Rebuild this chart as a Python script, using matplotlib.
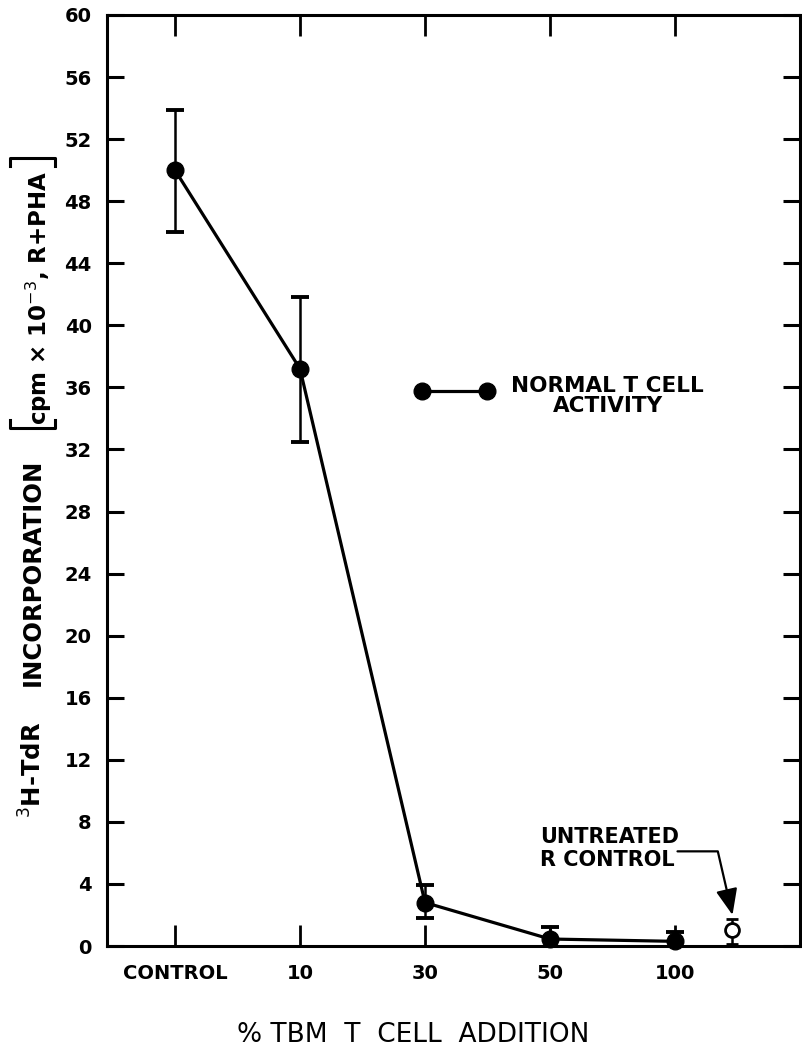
import matplotlib
matplotlib.use("Agg")
import matplotlib.pyplot as plt
from matplotlib.lines import Line2D

# T cell addition groups (x index), incorporation in cpm x 10^-3
groups = ["CONTROL", "10", "30", "50", "100"]
group_x = [0, 1, 2, 3, 4]
activity = [50.0, 37.2, 2.8, 0.45, 0.3]
err_low = [4.0, 4.7, 1.0, 0.75, 0.6]
err_high = [3.9, 4.6, 1.1, 0.75, 0.6]

# untreated responder control (open circle)
untreated_x = 4.46
untreated_y = 1.0
untreated_low = 0.85
untreated_high = 0.75

yticks = list(range(0, 61, 4))

plt.rcParams['font.family'] = ['DejaVu Sans']

fig = plt.figure(figsize=(8.02, 10.51), dpi=100)
ax = fig.add_axes([107 / 802, 1 - 946 / 1051, 693 / 802, 931 / 1051])

ax.errorbar(group_x, activity, yerr=[err_low, err_high], fmt='none',
            ecolor='black', elinewidth=1.8, capsize=6.5, capthick=2.8, zorder=2)
ax.plot(group_x, activity, '-o', color='black', lw=2.3, ms=12,
        zorder=3, clip_on=False)

ax.errorbar([untreated_x], [untreated_y], yerr=[[untreated_low], [untreated_high]],
            fmt='o', mfc='white', mec='black', mew=2, ms=10, ecolor='black',
            elinewidth=1.8, capsize=4.5, capthick=2.5, zorder=3)

# key for the filled series
ax.plot([1.98, 2.5], [35.8, 35.8], '-o', color='black', lw=2.3, ms=12)
ax.text(3.46, 35.45, "NORMAL T CELL\nACTIVITY", ha='center', va='center',
        multialignment='center', fontsize=15.5, fontweight='bold', linespacing=1.0)

ax.text(2.92, 6.26, "UNTREATED\nR CONTROL", ha='left', va='center',
        fontsize=15, fontweight='bold', linespacing=1.2)
ax.annotate('', xy=(4.46, 2.0), xytext=(4.02, 6.1),
            arrowprops=dict(arrowstyle='-|>,head_length=0.8,head_width=0.33',
                            connectionstyle='angle,angleA=0,angleB=103,rad=0',
                            color='black', lw=1.6, shrinkA=0, shrinkB=0,
                            mutation_scale=20))

ax.set_xlim(-0.544, 5.0)
ax.set_ylim(0, 60)
ax.set_xticks(group_x)
ax.set_xticklabels(groups, fontsize=14, fontweight='bold')
ax.set_yticks(yticks)
ax.set_yticklabels([str(v) for v in yticks], fontsize=14, fontweight='bold')
ax.tick_params(axis='x', direction='in', top=True, length=15, width=2, pad=13)
ax.tick_params(axis='y', direction='in', right=True, length=12, width=2.2, pad=11)
for side in ax.spines.values():
    side.set_linewidth(2.2)

ax.set_xlabel("% TBM  T  CELL  ADDITION", fontsize=19)
ax.xaxis.set_label_coords((413 - 107) / 693, -0.082)

# y axis title, built in pieces with drawn brackets
inch = fig.dpi_scale_trans
fig.text(33 / 100, (1051 - 770) / 100, "$^{3}$H-TdR", rotation=90,
         ha='center', va='center', fontsize=17.5, fontweight='bold', transform=inch)
fig.text(33 / 100, (1051 - 572) / 100, "INCORPORATION", rotation=90,
         ha='center', va='center', fontsize=17.5, fontweight='bold', transform=inch)
fig.text(39 / 100, (1051 - 298) / 100, "cpm × 10$^{-3}$, R+PHA", rotation=90,
         ha='center', va='center', fontsize=16.5, fontweight='bold', transform=inch)
for yb, hook in [(428, -8), (158, 8)]:
    xs = [10, 10, 55, 55]
    ys = [yb + hook, yb, yb, yb + hook]
    fig.add_artist(Line2D([x / 100 for x in xs], [(1051 - y) / 100 for y in ys],
                          transform=inch, color='black', lw=2.2))

fig.savefig("out.png", dpi=100)
